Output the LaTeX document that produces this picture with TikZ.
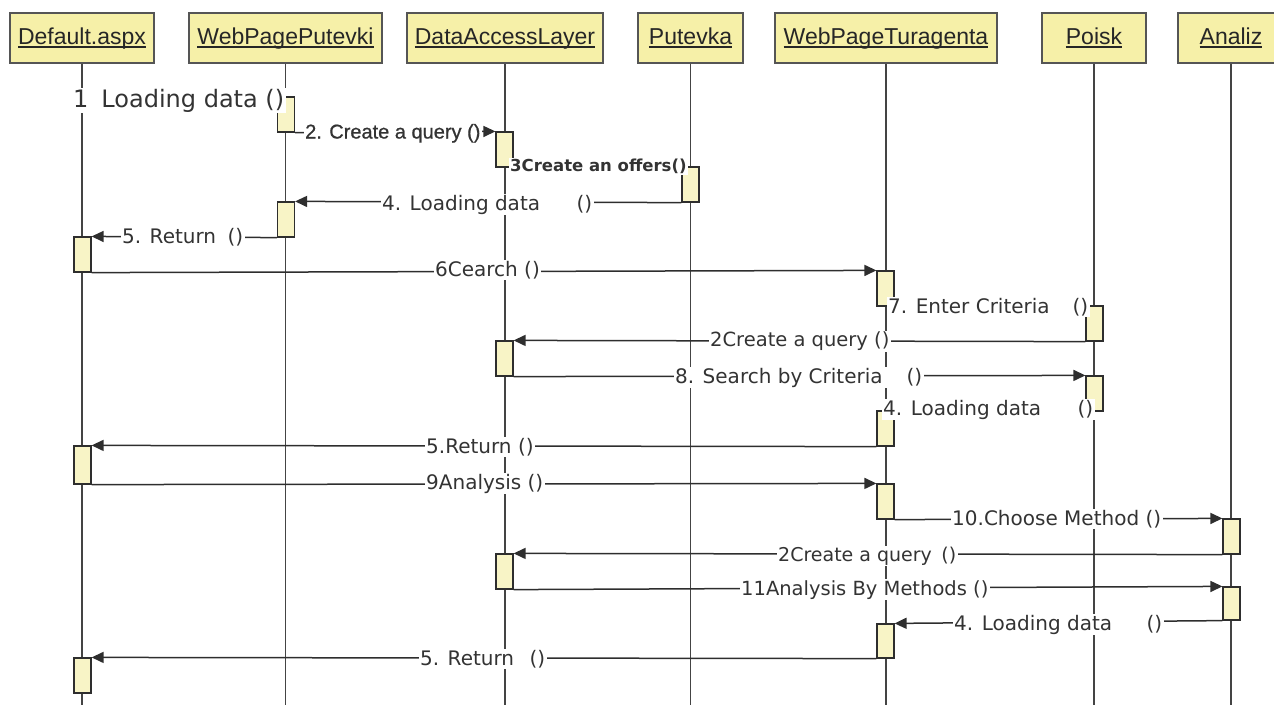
\documentclass[tikz,border=0pt]{standalone}
\usepackage{fontspec}
\setmainfont{DejaVu Sans}
\newfontfamily\hdrfont{Liberation Sans}
\newfontfamily\semibfont[FakeBold=0.8]{Liberation Sans}
\usetikzlibrary{arrows.meta}
\definecolor{hdrfill}{HTML}{F6F0A8}
\definecolor{hdrline}{HTML}{555555}
\definecolor{actfill}{HTML}{F8F4C6}
\definecolor{lncol}{HTML}{2E2E2E}
\definecolor{lifecol}{HTML}{444444}
\definecolor{txtcol}{HTML}{333333}
\newcommand\myul[1]{\sbox0{#1}\rlap{\rule[-3.6pt]{\wd0}{1.4pt}}\usebox0}
\begin{document}
\begin{tikzpicture}[x=1pt,y=-1pt,
  hdr/.style={draw=hdrline,fill=hdrfill,line width=1.2pt,minimum height=50pt,inner sep=0pt,
    font=\hdrfont\fontsize{23}{27}\selectfont,text=black!85,text height=17pt,text depth=5pt},
  life/.style={draw=lifecol,line width=1.2pt},
  act/.style={draw=lncol,fill=actfill,line width=1.2pt,minimum width=17pt,inner sep=0pt},
  msg/.style={draw=lncol,line width=1.5pt,-{Triangle[length=12pt,width=11pt]}},
  lbl/.style={fill=white,inner xsep=1.5pt,inner ysep=1pt,anchor=base west,text=txtcol,
    font=\fontsize{20}{24}\selectfont}]
\useasboundingbox (0,0) rectangle (1274,705);
\clip (0,0) rectangle (1274,705);
% headers
\node[hdr,minimum width=144pt] (h1) at (82,38) {\myul{Default.aspx}};
\node[hdr,minimum width=193pt] (h2) at (285.5,38) {\myul{WebPagePutevki}};
\node[hdr,minimum width=196pt] (h3) at (505,38) {\myul{DataAccessLayer}};
\node[hdr,minimum width=105pt] (h4) at (690.5,38) {\myul{Putevka}};
\node[hdr,minimum width=222pt] (h5) at (886,38) {\myul{WebPageTuragenta}};
\node[hdr,minimum width=104pt] (h6) at (1094,38) {\myul{Poisk}};
\node[hdr,minimum width=106pt] (h7) at (1231,38) {\myul{Analiz}};
% lifeline ends
\coordinate (e1) at (82,705);
\coordinate (e2) at (285.5,705);
\coordinate (e3) at (505,705);
\coordinate (e4) at (690.5,705);
\coordinate (e5) at (886,705);
\coordinate (e6) at (1094,705);
\coordinate (e7) at (1231,705);
\foreach \i in {1,...,7} {\draw[life] (h\i.south) -- (e\i);}
% activation boxes
\node[act,minimum height=35pt] (p1) at (286,114.5) {};
\node[act,minimum height=35pt] (q1) at (504.5,149.5) {};
\node[act,minimum height=35pt] (v1) at (690.5,184.5) {};
\node[act,minimum height=35pt] (p2) at (286,219.5) {};
\node[act,minimum height=35pt] (d1) at (82.5,254.5) {};
\node[act,minimum height=35pt] (t1) at (885.5,288.5) {};
\node[act,minimum height=35pt] (k1) at (1094.5,323.5) {};
\node[act,minimum height=35pt] (q2) at (504.5,358.5) {};
\node[act,minimum height=35pt] (k2) at (1094.5,393.5) {};
\node[act,minimum height=35pt] (t2) at (885.5,428.5) {};
\node[act,minimum height=38pt] (d2) at (82.5,465) {};
\node[act,minimum height=35pt] (t3) at (885.5,501.5) {};
\node[act,minimum height=35pt] (z1) at (1231.5,536.5) {};
\node[act,minimum height=35pt] (q3) at (504.5,571.5) {};
\node[act,minimum height=33pt] (z2) at (1231.5,603.5) {};
\node[act,minimum height=34pt] (t4) at (885.5,641) {};
\node[act,minimum height=35pt] (d3) at (82.5,675.5) {};
% messages
\draw[msg] (p1.south east) -- (q1.north west);
\draw[msg] (q1.south east) -- (v1.north west);
\draw[msg] (v1.south west) -- (p2.north east);
\draw[msg] (p2.south west) -- (d1.north east);
\draw[msg] (d1.south east) -- (t1.north west);
\draw[msg] (t1.south east) -- (k1.north west);
\draw[msg] (k1.south west) -- (q2.north east);
\draw[msg] (q2.south east) -- (k2.north west);
\draw[msg] (k2.south west) -- (t2.north east);
\draw[msg] (t2.south west) -- (d2.north east);
\draw[msg] (d2.south east) -- (t3.north west);
\draw[msg] (t3.south east) -- (z1.north west);
\draw[msg] (z1.south west) -- (q3.north east);
\draw[msg] (q3.south east) -- (z2.north west);
\draw[msg] (z2.south west) -- (t4.north east);
\draw[msg] (t4.south west) -- (d3.north east);
% labels
\node[lbl,font=\fontsize{24}{28}\selectfont] (l1) at (71.5,107) {1\hspace{13pt}Loading data ()};
\node[lbl,font=\semibfont\fontsize{20}{24}\selectfont] (l2) at (303.5,138.5) {2. Create a query ()};
\node[lbl,font=\bfseries\fontsize{16.5}{20}\selectfont] (l3) at (508.5,171.5) {3Create an offers()};
\node[lbl] (l4) at (380.5,210) {\makebox[210pt][l]{4. Loading data\hfill()}};
\node[lbl] (l5) at (120.5,243) {\makebox[121pt][l]{5. Return\hfill()}};
\node[lbl] (l6) at (433.5,276.5) {6Cearch ()};
\node[lbl] (l7) at (886.5,313) {\makebox[200pt][l]{7. Enter Criteria\hfill()}};
\node[lbl,font=\fontsize{19.5}{24}\selectfont] (l8) at (708.5,346.5) {2Create a query ()};
\node[lbl] (l9) at (673.5,383) {\makebox[247pt][l]{8. Search by Criteria\hfill()}};
\node[lbl] (l10) at (881.5,415) {\makebox[210pt][l]{4. Loading data\hfill()}};
\node[lbl] (l11) at (424.5,453) {5.Return ()};
\node[lbl] (l12) at (424.5,489) {9Analysis ()};
\node[lbl] (l13) at (950.5,525.5) {10.Choose Method ()};
\node[lbl,font=\fontsize{19}{23}\selectfont] (l14) at (776.5,561.5) {\makebox[178pt][l]{2Create a query\hfill()}};
\node[lbl,font=\fontsize{19.5}{24}\selectfont] (l15) at (739.5,595) {11Analysis By Methods ()};
\node[lbl] (l16) at (952.5,630) {\makebox[208pt][l]{4. Loading data\hfill()}};
\node[lbl] (l17) at (418.5,665) {\makebox[125pt][l]{5. Return\hfill()}};
\end{tikzpicture}
\end{document}
